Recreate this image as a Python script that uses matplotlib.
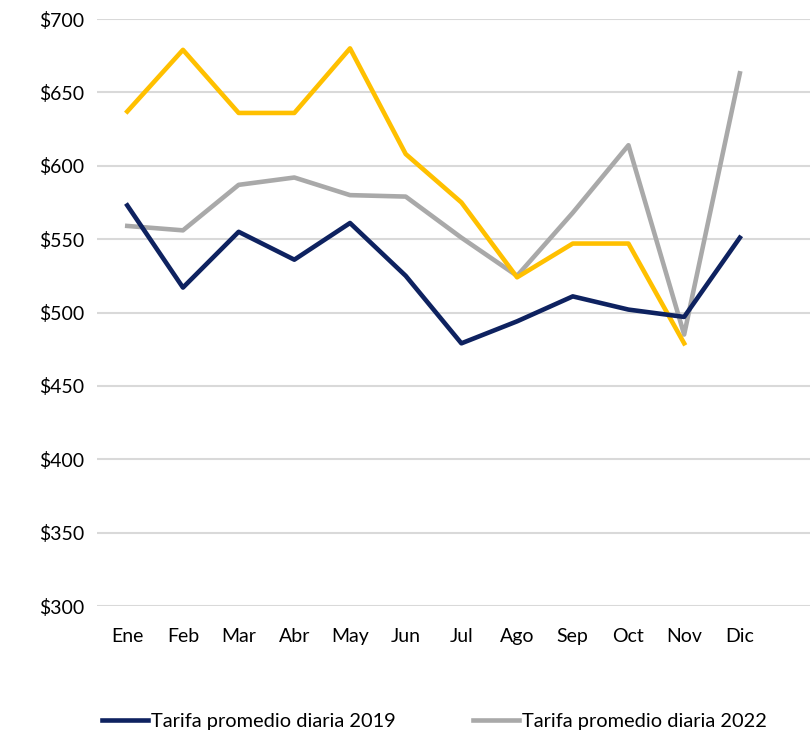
import matplotlib
matplotlib.use("Agg")
import matplotlib.pyplot as plt
from matplotlib.ticker import FuncFormatter

plt.rcParams['font.family'] = ['Lato', 'DejaVu Sans']

months = ["Ene", "Feb", "Mar", "Abr", "May", "Jun", "Jul", "Ago", "Sep", "Oct", "Nov", "Dic"]
tarifa_2019 = [573, 517, 555, 536, 561, 525, 479, 494, 511, 502, 497, 551]
tarifa_2022 = [559, 556, 587, 592, 580, 579, 551, 525, 568, 614, 485, 663]
tarifa_2023 = [637, 679, 636, 636, 680, 608, 575, 524, 547, 547, 479]
yticks = [300, 350, 400, 450, 500, 550, 600, 650, 700]

fig = plt.figure(figsize=(8.1, 7.35), dpi=100)
ax = fig.add_axes([0.12, 0.1755, 0.88, 0.7986])

x = list(range(len(months)))
l1, = ax.plot(x, tarifa_2019, color="#0E2260", lw=3.3, label="Tarifa promedio diaria 2019", zorder=4)
l2, = ax.plot(x, tarifa_2022, color="#A9A9A9", lw=3.3, label="Tarifa promedio diaria 2022", zorder=2)
l3, = ax.plot(x[:len(tarifa_2023)], tarifa_2023, color="#FFC000", lw=3.3, label="Tarifa promedio diaria 2023", zorder=3)

ax.set_ylim(300, 700)
ax.set_xlim(-0.54, 12.26)
ax.set_yticks(yticks)
ax.yaxis.set_major_formatter(FuncFormatter(lambda v, p: f"${int(v)}"))
ax.set_xticks(x)
ax.set_xticklabels(months)
ax.grid(axis="y", color="#D9D9D9", lw=1.5)
ax.set_axisbelow(True)
for s in ax.spines.values():
    s.set_visible(False)
ax.tick_params(axis="both", length=0, labelsize=14, colors="#000000")
ax.tick_params(axis="x", pad=16)
ax.tick_params(axis="y", pad=9)

fig.legend(handles=[l1, l2], loc="lower left", bbox_to_anchor=(0.104, -0.018), ncol=2,
           frameon=False, fontsize=14.4, handlelength=2.3, handletextpad=0.12, columnspacing=3.9)

fig.savefig("out.png", dpi=100)
